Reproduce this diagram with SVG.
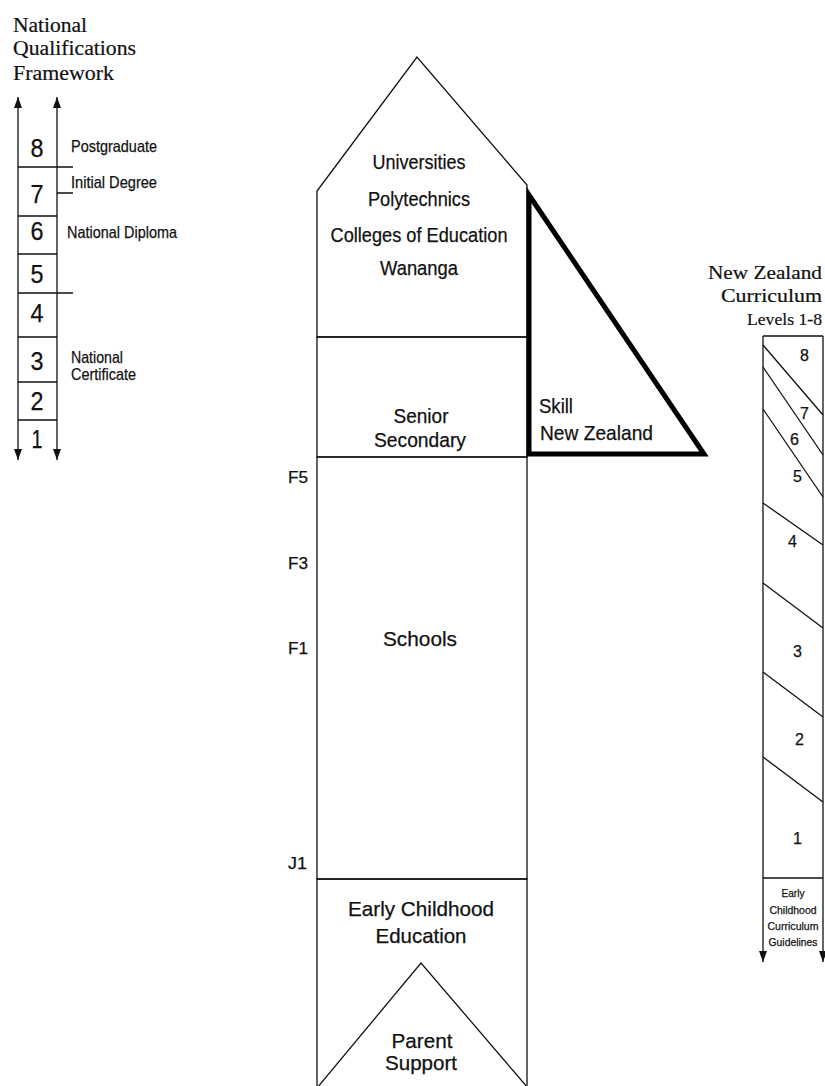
<svg xmlns="http://www.w3.org/2000/svg" width="825" height="1086" viewBox="0 0 825 1086">
<style>
.ln{stroke:#111;stroke-width:1.3;fill:none}
.sans{font-family:"Liberation Sans",Arial,sans-serif;fill:#111;stroke:#111;stroke-width:0.25}
.serif{font-family:"Liberation Serif","Times New Roman",serif;fill:#111;stroke:#111;stroke-width:0.2}
.mid{text-anchor:middle}
</style>
<defs>
<marker id="arr" viewBox="0 0 11 8" refX="11" refY="4" markerWidth="11" markerHeight="8" markerUnits="userSpaceOnUse" orient="auto-start-reverse">
<path d="M0,0 L11,4 L0,8 z" fill="#111"/>
</marker>
</defs>
<rect width="825" height="1086" fill="#fff"/>

<g id="nqf">
<text class="serif" x="13" y="32" font-size="20" textLength="74" lengthAdjust="spacingAndGlyphs">National</text>
<text class="serif" x="13" y="55" font-size="20" textLength="123" lengthAdjust="spacingAndGlyphs">Qualifications</text>
<text class="serif" x="13" y="80" font-size="20" textLength="101" lengthAdjust="spacingAndGlyphs">Framework</text>
<path class="ln" d="M18,167 H73 M57,193 H73 M18,216 H57 M18,254 H57 M18,293 H73 M18,337 H57 M18,382 H57 M18,420 H57"/>
<g class="sans mid" font-size="25">
<text x="37" y="157" textLength="13" lengthAdjust="spacingAndGlyphs">8</text>
<text x="37" y="203" textLength="13" lengthAdjust="spacingAndGlyphs">7</text>
<text x="37" y="240" textLength="13" lengthAdjust="spacingAndGlyphs">6</text>
<text x="37" y="283" textLength="13" lengthAdjust="spacingAndGlyphs">5</text>
<text x="37" y="322" textLength="13" lengthAdjust="spacingAndGlyphs">4</text>
<text x="37" y="370" textLength="13" lengthAdjust="spacingAndGlyphs">3</text>
<text x="37" y="410" textLength="13" lengthAdjust="spacingAndGlyphs">2</text>
<text x="37" y="448" textLength="11" lengthAdjust="spacingAndGlyphs">1</text>
</g>
<g class="sans" font-size="16.5">
<text x="71" y="152" textLength="86" lengthAdjust="spacingAndGlyphs">Postgraduate</text>
<text x="71" y="188" textLength="86" lengthAdjust="spacingAndGlyphs">Initial Degree</text>
<text x="67" y="238" textLength="110" lengthAdjust="spacingAndGlyphs">National Diploma</text>
<text x="71" y="363" textLength="52" lengthAdjust="spacingAndGlyphs">National</text>
<text x="71" y="380" textLength="65" lengthAdjust="spacingAndGlyphs">Certificate</text>
</g>
</g>

<g id="higher-education">
<path class="ln" d="M317,337 V191 L417,57 L527,185 V337 Z"/>
<g class="sans mid" font-size="20.5">
<text x="419" y="169" textLength="93" lengthAdjust="spacingAndGlyphs">Universities</text>
<text x="419" y="206" textLength="102" lengthAdjust="spacingAndGlyphs">Polytechnics</text>
<text x="419" y="242" textLength="177" lengthAdjust="spacingAndGlyphs">Colleges of Education</text>
<text x="419" y="275" textLength="78" lengthAdjust="spacingAndGlyphs">Wananga</text>
</g>
</g>

<g id="senior-secondary">
<rect class="ln" x="317" y="337" width="210" height="120"/>
<text class="sans mid" x="421" y="423" font-size="20.5" textLength="55" lengthAdjust="spacingAndGlyphs">Senior</text>
<text class="sans mid" x="420" y="447" font-size="20.5" textLength="92" lengthAdjust="spacingAndGlyphs">Secondary</text>
</g>

<g id="schools">
<rect class="ln" x="317" y="457" width="210" height="422"/>
<text class="sans mid" x="420" y="646" font-size="21" textLength="74" lengthAdjust="spacingAndGlyphs">Schools</text>
<g class="sans" font-size="17">
<text x="288" y="483" textLength="20" lengthAdjust="spacingAndGlyphs">F5</text>
<text x="288" y="569" textLength="20" lengthAdjust="spacingAndGlyphs">F3</text>
<text x="288" y="654" textLength="20" lengthAdjust="spacingAndGlyphs">F1</text>
<text x="288" y="869" textLength="19" lengthAdjust="spacingAndGlyphs">J1</text>
</g>
</g>

<g id="early-childhood">
<path class="ln" d="M317,1090 V879 H527 V1090"/>
<text class="sans mid" x="421" y="916" font-size="21" textLength="146" lengthAdjust="spacingAndGlyphs">Early Childhood</text>
<text class="sans mid" x="421" y="943" font-size="21" textLength="91" lengthAdjust="spacingAndGlyphs">Education</text>
</g>

<g id="parent-support">
<path class="ln" d="M317,1088 L421,963 L528,1088"/>
<text class="sans mid" x="422" y="1048" font-size="20.5" textLength="61" lengthAdjust="spacingAndGlyphs">Parent</text>
<text class="sans mid" x="421" y="1070" font-size="20.5" textLength="72" lengthAdjust="spacingAndGlyphs">Support</text>
</g>

<g id="skill-nz">
<path d="M529,195 V454 H704 Z" fill="none" stroke="#000" stroke-width="5" stroke-linejoin="miter" stroke-miterlimit="6"/>
<text class="sans" x="539" y="413" font-size="21" textLength="34" lengthAdjust="spacingAndGlyphs">Skill</text>
<text class="sans" x="540" y="440" font-size="21" textLength="113" lengthAdjust="spacingAndGlyphs">New Zealand</text>
</g>

<g id="nz-curriculum">
<text class="serif" x="708" y="279" font-size="19" textLength="114" lengthAdjust="spacingAndGlyphs">New Zealand</text>
<text class="serif" x="721" y="302" font-size="19" textLength="101" lengthAdjust="spacingAndGlyphs">Curriculum</text>
<text class="serif" x="747" y="325" font-size="16" textLength="75" lengthAdjust="spacingAndGlyphs">Levels 1-8</text>
<path class="ln" d="M763,336 H823 M763,345 L823,415 M763,367 L823,455 M763,409 L823,497 M763,503 L823,545 M763,583 L823,628 M763,672 L823,717 M763,757 L823,802 M763,878 H823"/>
<g class="sans" font-size="16">
<text x="800" y="361">8</text>
<text x="800" y="419">7</text>
<text x="790" y="445">6</text>
<text x="793" y="482">5</text>
<text x="788" y="547">4</text>
<text x="793" y="657">3</text>
<text x="795" y="745">2</text>
<text x="793" y="844">1</text>
</g>
<g class="sans mid" font-size="11.5">
<text x="793" y="897" textLength="23" lengthAdjust="spacingAndGlyphs">Early</text>
<text x="793" y="914" textLength="47" lengthAdjust="spacingAndGlyphs">Childhood</text>
<text x="793" y="930" textLength="51" lengthAdjust="spacingAndGlyphs">Curriculum</text>
<text x="793" y="946" textLength="49" lengthAdjust="spacingAndGlyphs">Guidelines</text>
</g>
</g>

<g id="connectors">
<line class="ln" x1="18" y1="97" x2="18" y2="460" marker-start="url(#arr)" marker-end="url(#arr)"/>
<line class="ln" x1="57" y1="97" x2="57" y2="460" marker-start="url(#arr)" marker-end="url(#arr)"/>
<line class="ln" x1="763" y1="336" x2="763" y2="962" marker-end="url(#arr)"/>
<line class="ln" x1="823" y1="336" x2="823" y2="962" marker-end="url(#arr)"/>
</g>
</svg>
